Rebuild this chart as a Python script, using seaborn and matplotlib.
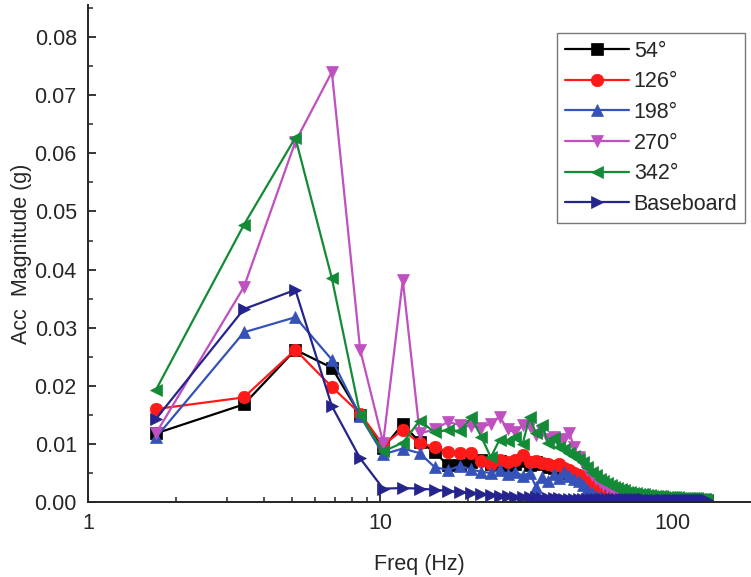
import numpy as np
import pandas as pd
import matplotlib
matplotlib.use("Agg")
import matplotlib.pyplot as plt
from matplotlib.ticker import FixedLocator, FormatStrFormatter, MultipleLocator, LogLocator, NullFormatter
import seaborn as sns

# frequency bins (Hz)
freq = [1.71, 3.42, 5.13, 6.84, 8.55, 10.25, 11.96, 13.67, 15.38, 17.09,
        18.8, 20.51, 22.22, 23.93, 25.64, 27.35, 29.05, 30.76, 32.47, 34.18,
        35.89, 37.6, 39.31, 41.02, 42.73, 44.44, 46.15, 47.86, 49.56, 51.27,
        52.98, 54.69, 56.4, 58.11, 59.82, 61.53, 63.24, 64.95, 66.66, 68.37,
        70.07, 71.78, 73.49, 75.2, 76.91, 78.62, 80.33, 82.04, 83.75, 85.46,
        87.17, 88.88, 90.58, 92.29, 94.0, 95.71, 97.42, 99.13, 100.84, 102.55,
        104.26, 105.97, 107.68, 109.39, 111.09, 112.8, 114.51, 116.22, 117.93, 119.64,
        121.35, 123.06, 124.77, 126.48, 128.19, 129.9, 131.6]

acc_54 = [0.0118, 0.0168, 0.0262, 0.0231, 0.0150, 0.0093, 0.0134, 0.0103, 0.0086, 0.0063,
          0.0064, 0.0068, 0.0072, 0.0066, 0.0070, 0.0062, 0.0066, 0.0070, 0.0064, 0.0068,
          0.0066, 0.0060, 0.0058, 0.0055, 0.0052, 0.0050, 0.0046, 0.0043, 0.0038, 0.0032,
          0.0026, 0.0019, 0.0013, 0.0010, 0.0008, 0.0007, 0.0006, 0.0006, 0.0005, 0.0005,
          0.0005, 0.0004, 0.0004, 0.0004, 0.0004, 0.0004, 0.0003, 0.0003, 0.0003, 0.0003,
          0.0003, 0.0003, 0.0003, 0.0003, 0.0003, 0.0003, 0.0003, 0.0002, 0.0002, 0.0002,
          0.0002, 0.0002, 0.0002, 0.0002, 0.0002, 0.0002, 0.0002, 0.0002, 0.0002, 0.0002,
          0.0002, 0.0002, 0.0002, 0.0002, 0.0002, 0.0002, 0.0002]

acc_126 = [0.0160, 0.0180, 0.0262, 0.0198, 0.0152, 0.0098, 0.0124, 0.0101, 0.0095, 0.0086,
           0.0084, 0.0084, 0.0070, 0.0066, 0.0072, 0.0068, 0.0072, 0.0081, 0.0068, 0.0070,
           0.0067, 0.0066, 0.0062, 0.0065, 0.0058, 0.0055, 0.0050, 0.0046, 0.0041, 0.0034,
           0.0026, 0.0018, 0.0012, 0.0009, 0.0007, 0.0006, 0.0006, 0.0005, 0.0005, 0.0005,
           0.0004, 0.0004, 0.0004, 0.0004, 0.0004, 0.0003, 0.0003, 0.0003, 0.0003, 0.0003,
           0.0003, 0.0003, 0.0003, 0.0003, 0.0003, 0.0003, 0.0002, 0.0002, 0.0002, 0.0002,
           0.0002, 0.0002, 0.0002, 0.0002, 0.0002, 0.0002, 0.0002, 0.0002, 0.0002, 0.0002,
           0.0002, 0.0002, 0.0002, 0.0002, 0.0002, 0.0002, 0.0002]

acc_198 = [0.0111, 0.0292, 0.0318, 0.0245, 0.0148, 0.0082, 0.0092, 0.0084, 0.0060, 0.0055,
           0.0062, 0.0056, 0.0052, 0.0050, 0.0055, 0.0048, 0.0052, 0.0045, 0.0050, 0.0026,
           0.0043, 0.0036, 0.0048, 0.0042, 0.0052, 0.0045, 0.0040, 0.0036, 0.0030, 0.0022,
           0.0016, 0.0011, 0.0008, 0.0006, 0.0005, 0.0005, 0.0004, 0.0004, 0.0004, 0.0004,
           0.0004, 0.0003, 0.0003, 0.0003, 0.0003, 0.0003, 0.0003, 0.0003, 0.0003, 0.0003,
           0.0003, 0.0002, 0.0002, 0.0002, 0.0002, 0.0002, 0.0002, 0.0002, 0.0002, 0.0002,
           0.0002, 0.0002, 0.0002, 0.0002, 0.0002, 0.0002, 0.0002, 0.0002, 0.0002, 0.0002,
           0.0002, 0.0002, 0.0002, 0.0002, 0.0002, 0.0002, 0.0002]

acc_270 = [0.0118, 0.0370, 0.0620, 0.0740, 0.0262, 0.0102, 0.0382, 0.0118, 0.0125, 0.0138,
           0.0132, 0.0130, 0.0128, 0.0135, 0.0147, 0.0125, 0.0120, 0.0132, 0.0130, 0.0115,
           0.0122, 0.0108, 0.0112, 0.0105, 0.0108, 0.0118, 0.0095, 0.0078, 0.0065, 0.0055,
           0.0046, 0.0040, 0.0034, 0.0029, 0.0025, 0.0022, 0.0019, 0.0017, 0.0015, 0.0014,
           0.0013, 0.0012, 0.0011, 0.0011, 0.0010, 0.0010, 0.0009, 0.0009, 0.0008, 0.0008,
           0.0008, 0.0007, 0.0007, 0.0007, 0.0007, 0.0006, 0.0006, 0.0006, 0.0006, 0.0006,
           0.0005, 0.0005, 0.0005, 0.0005, 0.0005, 0.0005, 0.0005, 0.0005, 0.0005, 0.0005,
           0.0005, 0.0004, 0.0004, 0.0004, 0.0004, 0.0003, 0.0003]

acc_342 = [0.0193, 0.0477, 0.0627, 0.0385, 0.0150, 0.0087, 0.0102, 0.0140, 0.0120, 0.0124,
           0.0122, 0.0146, 0.0112, 0.0077, 0.0107, 0.0105, 0.0112, 0.0100, 0.0146, 0.0118,
           0.0132, 0.0101, 0.0110, 0.0095, 0.0092, 0.0085, 0.0080, 0.0074, 0.0068, 0.0060,
           0.0052, 0.0046, 0.0040, 0.0036, 0.0032, 0.0029, 0.0026, 0.0024, 0.0022, 0.0020,
           0.0018, 0.0017, 0.0016, 0.0015, 0.0014, 0.0013, 0.0013, 0.0012, 0.0012, 0.0011,
           0.0011, 0.0010, 0.0010, 0.0010, 0.0009, 0.0009, 0.0009, 0.0008, 0.0008, 0.0008,
           0.0008, 0.0007, 0.0007, 0.0007, 0.0007, 0.0007, 0.0007, 0.0007, 0.0007, 0.0007,
           0.0007, 0.0006, 0.0006, 0.0006, 0.0005, 0.0005, 0.0004]

acc_base = [0.0143, 0.0332, 0.0365, 0.0165, 0.0075, 0.0023, 0.0024, 0.0023, 0.0021, 0.0019,
            0.0017, 0.0015, 0.0013, 0.0012, 0.0011, 0.0010, 0.0009, 0.0009, 0.0008, 0.0008,
            0.0007, 0.0007, 0.0007, 0.0007, 0.0006, 0.0006, 0.0006, 0.0006, 0.0006, 0.0006,
            0.0005, 0.0005, 0.0005, 0.0005, 0.0005, 0.0005, 0.0005, 0.0005, 0.0005, 0.0005,
            0.0005, 0.0005, 0.0005, 0.0005, 0.0005, 0.0005, 0.0005, 0.0004, 0.0004, 0.0004,
            0.0004, 0.0004, 0.0004, 0.0004, 0.0004, 0.0004, 0.0004, 0.0004, 0.0004, 0.0004,
            0.0004, 0.0004, 0.0004, 0.0004, 0.0004, 0.0004, 0.0004, 0.0004, 0.0004, 0.0004,
            0.0004, 0.0004, 0.0004, 0.0004, 0.0004, 0.0004, 0.0004]

labels = ['54°', '126°', '198°', '270°', '342°', 'Baseboard']
series = [acc_54, acc_126, acc_198, acc_270, acc_342, acc_base]
colors = ['#000000', '#ff1a1a', '#3552b8', '#c04fc0', '#138a36', '#24248c']
markers = ['s', 'o', '^', 'v', '<', '>']

sns.set_style("ticks")
plt.rcParams['font.family'] = ['Liberation Sans', 'DejaVu Sans']

fig = plt.figure(figsize=(7.51, 5.77), dpi=100)
ax = fig.add_axes([0.117, 0.130, 0.883, 0.861])

for lab, vals, c, m in zip(labels, series, colors, markers):
    sns.lineplot(x=freq, y=vals, ax=ax, color=c, marker=m, markersize=9,
                 markeredgecolor=c, markeredgewidth=0.5, linewidth=1.6, label=lab)

ax.set_xscale('log')
ax.set_xlim(1, 186)
ax.set_ylim(0, 0.0855)
ax.xaxis.set_major_locator(FixedLocator([1, 10, 100]))
ax.set_xticklabels(['1', '10', '100'])
ax.xaxis.set_minor_locator(LogLocator(base=10, subs=np.arange(2, 10)))
ax.xaxis.set_minor_formatter(NullFormatter())
ax.yaxis.set_major_locator(MultipleLocator(0.01))
ax.yaxis.set_minor_locator(MultipleLocator(0.005))
ax.yaxis.set_major_formatter(FormatStrFormatter('%.2f'))

ax.tick_params(which='major', direction='in', length=6, width=1.3, labelsize=15.5, pad=8)
ax.tick_params(which='minor', direction='in', length=3.5, width=1.1)
for s in ['top', 'right']:
    ax.spines[s].set_visible(False)
for s in ['left', 'bottom']:
    ax.spines[s].set_linewidth(1.4)

ax.set_xlabel('Freq (Hz)', fontsize=15.5, labelpad=14)
ax.set_ylabel('Acc  Magnitude (g)', fontsize=15.5, labelpad=2)

leg = ax.legend(loc='upper right', bbox_to_anchor=(0.991, 0.944), fontsize=15.5,
                frameon=True, fancybox=False, edgecolor='#555555', handlelength=3.0,
                handletextpad=0.2, labelspacing=0.45, borderpad=0.35, borderaxespad=0,
                markerscale=1.0)
leg.get_frame().set_linewidth(1.0)

fig.savefig('out.png', dpi=100)
